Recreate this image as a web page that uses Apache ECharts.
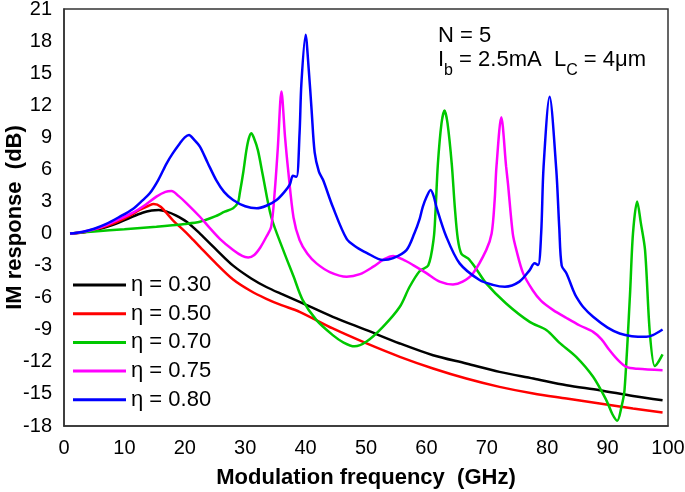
<!DOCTYPE html>
<html><head><meta charset="utf-8">
<script src="https://cdn.jsdelivr.net/npm/echarts@6/dist/echarts.min.js"></script>
<style>html,body{margin:0;padding:0;background:#fff}#c{width:685px;height:492px}</style>
</head><body><div id="c"></div>
<script>
const seriesNames = ['η = 0.30', 'η = 0.50', 'η = 0.70', 'η = 0.75', 'η = 0.80'];
const seriesColors = ['#000000', '#ff0000', '#00c800', '#ff00ff', '#0000ff'];

const eta030 = [[1,0],[3,0.1],[5,0.3],[7,0.6],[9,1.0],[11,1.5],[13,1.95],[14.5,2.15],[15.7,2.2],[17,2.05],[18.5,1.7],[20.3,1.1],[22.5,0],[25.2,-1.5],[28,-3.0],[31,-4.2],[33.5,-5.0],[36,-5.65],[39,-6.39],[44.5,-7.79],[50.1,-9.04],[55.6,-10.28],[61.1,-11.38],[66.6,-12.15],[72.1,-12.94],[77.7,-13.56],[83.2,-14.19],[88.7,-14.65],[94.2,-15.2],[99.1,-15.6]];

const eta050 = [[1,0],[3,0.1],[5,0.35],[7,0.7],[9,1.15],[11,1.7],[12.5,2.2],[14,2.6],[14.85,2.76],[16,2.5],[18,1.26],[20,0.2],[21.4,-0.6],[22.5,-1.25],[25,-2.7],[28,-4.3],[31,-5.4],[33.5,-6.1],[36,-6.7],[39,-7.32],[44.5,-8.88],[50.1,-10.28],[55.6,-11.53],[61.1,-12.62],[66.6,-13.56],[72.1,-14.34],[77.7,-14.96],[83.2,-15.43],[88.7,-15.9],[94.2,-16.37],[99.1,-16.74]];

const eta070 = [[1,0],[5,0.2],[10,0.4],[15.3,0.64],[20,0.9],[22.5,1.1],[25,1.6],[26.6,2.04],[28,2.36],[28.8,2.9],[29.1,3.76],[29.7,5.8],[30.2,7.8],[30.6,8.9],[31,9.38],[31.4,9.0],[32.1,7.8],[32.9,5.5],[34.3,1.57],[36.3,-1.55],[38,-4.0],[39.5,-6.2],[41.8,-8.1],[44.5,-9.5],[46.3,-10.2],[48.1,-10.55],[50.1,-10.1],[52.8,-8.73],[55.6,-6.85],[57.2,-5.0],[58.9,-3.5],[60.3,-3.0],[61.2,-0.5],[61.5,2.0],[61.9,6.5],[62.5,10.3],[63,11.5],[63.5,10.3],[64.2,6.5],[64.7,2.5],[65.2,-0.5],[65.8,-1.9],[66.9,-2.33],[68,-3.1],[69.9,-4.66],[73.2,-6.54],[77.1,-8.26],[79.9,-9.04],[82,-10.2],[84.8,-11.53],[87.6,-13.4],[89.8,-15.6],[90.8,-16.9],[91.6,-17.5],[92.3,-16.2],[92.8,-14.65],[93.7,-5.8],[94.2,0],[94.9,3.0],[95.5,1.0],[96.2,-1.55],[97,-9.35],[97.8,-12.4],[98.3,-12.1],[99.1,-11.3]];

const eta075 = [[1,0],[3,0.15],[5,0.4],[7,0.8],[9,1.3],[11.4,1.95],[13.5,2.7],[15.3,3.45],[16.8,3.9],[17.8,3.98],[19,3.5],[20.3,2.83],[22.5,1.57],[24,0.6],[25.8,-0.5],[28,-1.55],[29.5,-2.1],[30.5,-2.23],[31.5,-2.0],[32.5,-1.3],[33.5,-0.3],[34.3,0.64],[34.9,4.0],[35.4,8.0],[36,13.28],[36.6,9.0],[37.1,6.0],[38,1.5],[39,-0.6],[40.3,-1.9],[41.8,-2.79],[44,-3.6],[46.8,-4.04],[49,-3.8],[51.2,-3.1],[53,-2.4],[54.5,-2.1],[56,-2.4],[57.8,-2.95],[60,-3.7],[62.2,-4.5],[64.4,-4.76],[66,-4.5],[67.7,-3.73],[69.9,-1.55],[70.8,0],[71.3,3.1],[71.6,6.25],[72.4,10.88],[73.2,6.25],[73.5,4.7],[74.3,0],[74.9,-1.55],[76,-3.7],[77.6,-5.3],[79,-6.3],[81,-7.16],[83.2,-7.9],[85.4,-8.6],[87.6,-9.2],[89,-9.9],[90.3,-10.9],[91.5,-11.7],[93.1,-12.47],[95,-12.65],[99.1,-12.78]];

const eta080 = [[1,0],[3,0.15],[5,0.45],[7,0.9],[9,1.5],[11.4,2.3],[13,3.1],[14.2,3.76],[15.6,5.0],[17,6.57],[18,7.5],[19.2,8.45],[20,9.0],[20.7,9.22],[21.5,8.8],[22.5,8.13],[23.8,6.6],[25.2,5.0],[26.5,3.9],[28,3.14],[30,2.55],[31.9,2.36],[33.5,2.6],[35.2,3.14],[36.5,3.9],[37.4,4.6],[37.9,5.41],[38.5,5.3],[39,9.38],[39.3,14.0],[40,18.6],[40.5,15.5],[41,11.5],[41.5,7.6],[42.2,5.8],[42.9,5.0],[44.5,2.5],[46.8,-0.5],[48.5,-1.3],[50.1,-1.8],[52.8,-2.48],[54.5,-2.3],[56.7,-1.55],[58,0],[58.9,1.4],[59.4,2.5],[60,3.4],[60.7,4.07],[61.2,3.5],[61.65,2.5],[63.3,-0.3],[65.5,-2.79],[68.8,-4.35],[71,-4.8],[73,-4.98],[75.4,-4.5],[77.1,-3.42],[77.9,-2.79],[78.5,-2.95],[79,0],[79.4,6.25],[80.4,12.8],[81.5,6.0],[82,0.5],[82.4,-3.0],[83.2,-3.73],[84.3,-5.3],[84.8,-5.9],[86,-6.9],[87.6,-7.79],[90,-8.8],[92,-9.35],[94,-9.6],[96.4,-9.66],[97.5,-9.5],[99.1,-8.97]];

const seriesData = [eta030, eta050, eta070, eta075, eta080];

const xTicks = { min: 0, max: 100, interval: 10 };
const yTicks = { min: -18, max: 21, interval: 3 };

const FONT = '"Liberation Sans", Arial, sans-serif';
const mctx = document.createElement('canvas').getContext('2d');
function tw(s, size) { mctx.font = size + 'px ' + FONT; return mctx.measureText(s).width; }

// annotation text
const graphics = [];
graphics.push({ type: 'text', x: 438, y: 36, style: { text: 'N = 5', font: '22px ' + FONT, fill: '#000', verticalAlign: 'middle', align: 'left' } });
const segs = [['I', 22, 0], ['b', 16, 1], [' = 2.5mA  L', 22, 0], ['C', 16, 1], [' = 4μm', 22, 0]];
let cx = 438;
segs.forEach(s => {
  graphics.push({ type: 'text', x: cx, y: s[2] ? 71 : 59.5,
    style: { text: s[0], font: s[1] + 'px ' + FONT, fill: '#000', verticalAlign: 'middle', align: 'left' } });
  cx += tw(s[0], s[1]);
});

const chart = echarts.init(document.getElementById('c'), null, { renderer: 'canvas' });
chart.setOption({
  animation: false,
  backgroundColor: '#fff',
  textStyle: { fontFamily: FONT },
  grid: { left: 64, right: 17, top: 9, bottom: 66, show: true, borderColor: '#333', borderWidth: 1.5, containLabel: false, outerBoundsMode: 'none' },
  legend: {
    orient: 'vertical', left: 73, top: 274, padding: 0, itemGap: 6.7,
    itemWidth: 53, itemHeight: 3, icon: 'rect',
    data: seriesNames,
    textStyle: { fontSize: 22, color: '#000', lineHeight: 22, fontFamily: FONT }
  },
  xAxis: {
    type: 'value', min: xTicks.min, max: xTicks.max, interval: xTicks.interval,
    name: 'Modulation frequency  (GHz)', nameLocation: 'middle', nameGap: 41, nameMoveOverlap: false,
    nameTextStyle: { fontSize: 22, fontWeight: 'bold', color: '#000', fontFamily: FONT },
    axisLine: { show: true, onZero: false, lineStyle: { color: '#333', width: 1.5 } },
    axisTick: { show: false }, splitLine: { show: false },
    axisLabel: { fontSize: 20, color: '#000', margin: 12, fontFamily: FONT }
  },
  yAxis: {
    type: 'value', min: yTicks.min, max: yTicks.max, interval: yTicks.interval,
    name: 'IM response  (dB)', nameLocation: 'middle', nameGap: 38, nameMoveOverlap: false,
    nameTextStyle: { fontSize: 22, fontWeight: 'bold', color: '#000', fontFamily: FONT },
    axisLine: { show: true, onZero: false, lineStyle: { color: '#333', width: 1.5 } },
    axisTick: { show: false }, splitLine: { show: false },
    axisLabel: { fontSize: 20, color: '#000', margin: 12, fontFamily: FONT }
  },
  graphic: graphics,
  series: seriesNames.map((n, i) => ({
    name: n, type: 'line', data: seriesData[i], symbol: 'none', smooth: 0.3,
    color: seriesColors[i],
    lineStyle: { color: seriesColors[i], width: 2.5 },
    z: 2 + i
  }))
});
</script></body></html>
